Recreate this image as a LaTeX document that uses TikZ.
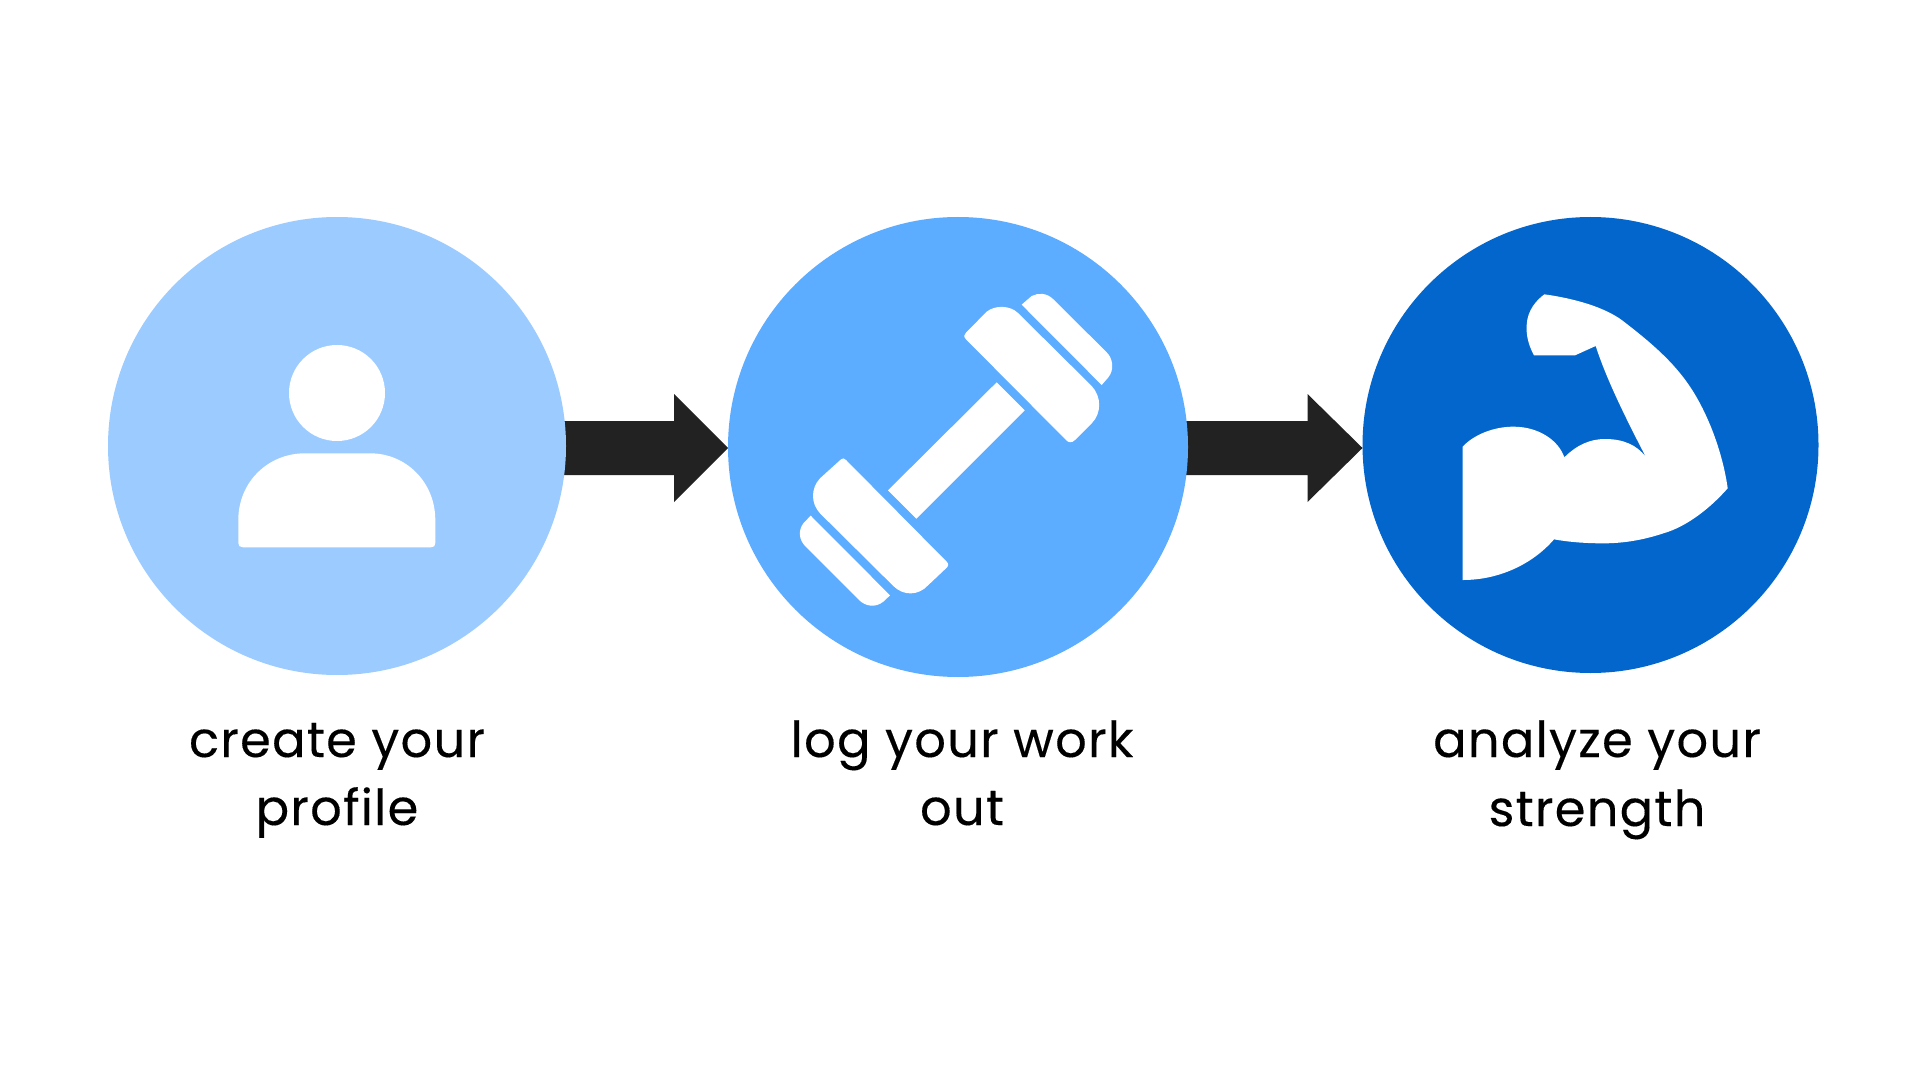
\documentclass[tikz,border=0pt]{standalone}
\usepackage{fontspec}
\setmainfont[LetterSpace=2.5,FakeBold=0.25]{Poppins}
\usetikzlibrary{calc,backgrounds}
\definecolor{lightblue}{HTML}{9BCBFF}
\definecolor{midblue}{HTML}{5CACFF}
\definecolor{darkblue}{HTML}{0366CC}
\definecolor{arrowdark}{HTML}{222222}
\tikzset{
  disc/.style={circle,inner sep=0pt,outer sep=0pt},
  label text/.style={anchor=base,inner sep=0pt,text=black,font=\fontsize{24.8}{30}\selectfont},
  glyph/.style={fill=white,draw=none},
  arrow body/.style={fill=arrowdark,draw=none},
}
\begin{document}
\begin{tikzpicture}[x=0.5pt,y=-0.5pt]
\begin{pgfonlayer}{background}
\fill[white] (0,0) rectangle (1920,1080);
\end{pgfonlayer}
\useasboundingbox (0,0) rectangle (1920,1080);
\node[disc,fill=lightblue,minimum size=229pt] (c1) at (337,446) {};
\node[disc,fill=midblue,minimum size=230pt] (c2) at (958,447) {};
\node[disc,fill=darkblue,minimum size=228pt] (c3) at (1590.5,445) {};
\coordinate (tip1) at (c2.west |- 0,448);
\coordinate (tip2) at (c3.west |- 0,448);
\coordinate (tail1) at ($(c1.east |- 0,448)+(-6,0)$);
\coordinate (tail2) at ($(c2.east |- 0,448)+(-6,0)$);
\begin{pgfonlayer}{background}
\fill[arrow body] ($(tail1)+(0,-27)$) -- ($(tip1)+(-54,-27)$) -- ($(tip1)+(-54,-54)$) -- (tip1) -- ($(tip1)+(-54,54)$) -- ($(tip1)+(-54,27)$) -- ($(tail1)+(0,27)$) -- cycle;
\fill[arrow body] ($(tail2)+(0,-27)$) -- ($(tip2)+(-55,-27)$) -- ($(tip2)+(-55,-54)$) -- (tip2) -- ($(tip2)+(-55,54)$) -- ($(tip2)+(-55,27)$) -- ($(tail2)+(0,27)$) -- cycle;
\end{pgfonlayer}
% person
\node[disc,fill=white,minimum size=48pt] (head) at (337,393) {};
\fill[glyph] (238.3,520) .. controls (238.3,482) and (268,453.3) .. (305,453.3) -- (370,453.3) .. controls (406,453.3) and (435.3,482) .. (435.3,520) -- (435.3,543) .. controls (435.3,546) and (434,547.3) .. (431,547.3) -- (243,547.3) .. controls (240,547.3) and (238.3,546) .. (238.3,543) -- cycle;
% dumbbell
\begin{scope}[shift={(760,270)},x=0.16667pt,y=-0.16667pt]
\fill[glyph] (710,337) -- (794,421) -- (469,746) -- (384,661) -- cycle;
\fill[glyph] (618,208) .. controls (610,200) and (612,193) .. (618,188) -- (680,125) .. controls (705,105) and (750,105) .. (775,130) -- (995,348) .. controls (1025,380) and (1025,430) .. (995,460) -- (945,510) .. controls (935,520) and (925,518) .. (918,510) -- cycle;
\fill[glyph] (785,104) -- (815,78) .. controls (835,68) and (860,68) .. (880,88) -- (1038,245) .. controls (1060,265) and (1063,300) .. (1045,322) -- (1025,345) -- cycle;
\fill[glyph] (243,568) .. controls (248,563) and (253,565) .. (258,570) -- (560,875) .. controls (567,882) and (566,888) .. (558,895) -- (505,945) .. controls (475,978) and (430,978) .. (400,948) -- (180,730) .. controls (152,700) and (152,655) .. (180,625) -- cycle;
\fill[glyph] (152,737) -- (390,976) -- (370,995) .. controls (345,1015) and (315,1008) .. (297,990) -- (137,830) .. controls (115,808) and (115,780) .. (130,760) -- cycle;
\end{scope}
% bicep
\begin{scope}[shift={(1430,270)},x=0.16667pt,y=-0.16667pt]
\fill[glyph] (98,530) .. controls (130,495) and (190,470) .. (250,470) .. controls (325,470) and (385,510) .. (403,562) .. controls (440,525) and (480,507) .. (525,507) .. controls (580,507) and (620,525) .. (647,560) .. controls (590,450) and (530,330) .. (497,228) -- (435,256) -- (312,256) .. controls (295,225) and (288,195) .. (290,165) .. controls (292,120) and (320,90) .. (343,73) .. controls (430,85) and (520,110) .. (575,150) .. controls (660,215) and (730,275) .. (780,350) .. controls (840,440) and (880,560) .. (893,655) .. controls (840,715) and (770,770) .. (700,790) .. controls (640,810) and (580,820) .. (520,820) .. controls (460,820) and (410,815) .. (372,808) .. controls (310,880) and (210,930) .. (98,930) -- cycle;
\end{scope}
% labels
\node[label text] (t1a) at (337,757) {create your};
\node[label text] (t1b) at (337,825) {profile};
\node[label text] (t2a) at (962,757) {log your work};
\node[label text] (t2b) at (962,825) {out};
\node[label text] (t3a) at (1597,757) {analyze your};
\node[label text] (t3b) at (1597,826) {strength};
\end{tikzpicture}
\end{document}
